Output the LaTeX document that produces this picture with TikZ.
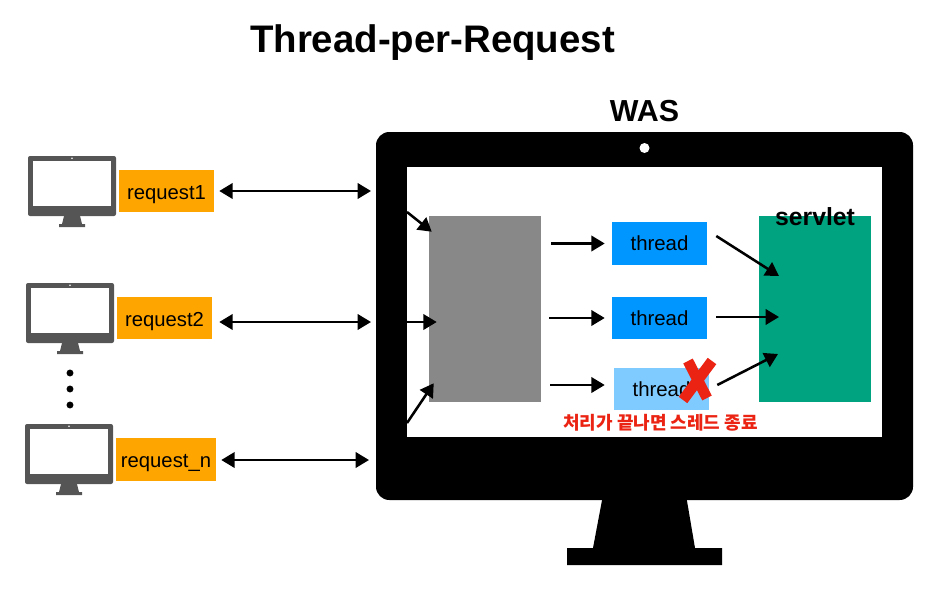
\documentclass[tikz,border=0pt]{standalone}
\usepackage{fontspec}
\setmainfont{Liberation Sans}
\newfontfamily\krfont{Noto Sans CJK KR}
\definecolor{reqorange}{RGB}{255,165,0}
\definecolor{threadblue}{RGB}{0,150,255}
\definecolor{threadlight}{RGB}{127,202,255}
\definecolor{servletgreen}{RGB}{0,163,127}
\definecolor{queuegrey}{RGB}{136,136,136}
\definecolor{clientgrey}{RGB}{85,85,85}
\definecolor{crossred}{RGB}{235,35,18}
\usetikzlibrary{arrows.meta}

\begin{document}
\begin{tikzpicture}[
        x=0.75pt,y=-0.75pt,
        request/.style={fill=reqorange,minimum height=31.5pt,inner sep=0pt,text height=12.4pt,text depth=0pt,font=\fontsize{15.2}{18}\selectfont},
        worker/.style={fill=threadblue,minimum width=71.25pt,minimum height=32pt,inner sep=0pt,text height=11.2pt,text depth=0pt,font=\fontsize{15.3}{18}\selectfont},
        arrow/.style={-{Triangle[length=10pt,width=11.5pt]},line width=1.9pt,color=black},
        both/.style={{Triangle[length=10pt,width=11.5pt]}-{Triangle[length=10pt,width=11.5pt]},line width=1.9pt,color=black},
        dot/.style={circle,fill=black,minimum size=5.2pt,inner sep=0pt},
        client/.pic={
            \fill[clientgrey,rounded corners=1.5pt] (-44,0) rectangle (44,60);
            \fill[white] (-39,5) rectangle (39,50);
            \fill[white] (0,2.2) circle (0.9);
            \fill[clientgrey] (-8,60) -- (8,60) -- (10,68) -- (13,68) -- (13,71) -- (-13,71) -- (-13,68) -- (-10,68) -- cycle;
        }
    ]
        \useasboundingbox (0,0) rectangle (942,592);

        % Titles
        \node[font=\bfseries\fontsize{28.8}{32}\selectfont] (title) at (432.5,42.5) {Thread-per-Request};
        \node[font=\bfseries\fontsize{22.8}{26}\selectfont] (wastitle) at (644.5,111) {WAS};

        % Clients
        \pic at (72,156) {client};
        \pic at (70,283) {client};
        \pic at (69,424) {client};
        \node[dot] (dot1) at (70,373) {};
        \node[dot] (dot2) at (70,389) {};
        \node[dot] (dot3) at (70,405) {};

        \node[request,minimum width=71.25pt] (req1) at (166.5,191) {request1};
        \node[request,minimum width=71.25pt] (req2) at (164.5,318) {request2};
        \node[request,minimum width=75pt,minimum height=32.25pt] (reqn) at (166,459.5) {request\_n};

        % WAS monitor
        \fill[black] (603,495) -- (686,495) -- (695,548) -- (722,548) -- (722,565) -- (567,565) -- (567,548) -- (593,548) -- cycle;
        \node[fill=black,rounded corners=10pt,minimum width=402.75pt,minimum height=276pt,inner sep=0pt] (was) at (644.5,316) {};
        \node[fill=white,minimum width=356.25pt,minimum height=202.5pt,inner sep=0pt] (screen) at (644.5,302) {};
        \node[circle,fill=white,minimum size=7.5pt,inner sep=0pt] (camera) at (644.5,148) {};

        \node[fill=queuegrey,minimum width=84pt,minimum height=139.5pt,inner sep=0pt] (queue) at (485,309) {};
        \node[fill=servletgreen,minimum width=84pt,minimum height=139.5pt,inner sep=0pt] (servlet) at (815,309) {};
        \node[font=\bfseries\fontsize{18.6}{22}\selectfont] (servletname) at (815,217) {servlet};

        \node[worker] (thread1) at (659.5,243.5) {thread};
        \node[worker] (thread2) at (659.5,318) {thread};
        \node[worker,fill=threadlight] (thread3) at (661.5,389) {thread};

        % Free arrow ends
        \coordinate (gate1) at (371,191);
        \coordinate (gate2) at (371,322);
        \coordinate (gaten) at (369,460);
        \coordinate (in1) at (407,212);
        \coordinate (in2) at (407,322);
        \coordinate (in3) at (407,423);
        \coordinate (out1) at (551,243.5);
        \coordinate (out2) at (549,318);
        \coordinate (out3) at (550,385);
        \coordinate (hit1) at (779,276);
        \coordinate (hit2) at (779,317);
        \coordinate (hit3) at (778,354);

        % Arrows
        \draw[both] ([shift={(5,0)}]req1.east) -- (gate1);
        \draw[both] ([shift={(7,4)}]req2.east) -- (gate2);
        \draw[both] ([shift={(5,0.5)}]reqn.east) -- (gaten);
        \draw[arrow] (in1) -- ([shift={(3,16)}]queue.north west);
        \draw[arrow] (in2) -- ([shift={(8,13)}]queue.west);
        \draw[arrow] (in3) -- ([shift={(5,-19)}]queue.south west);
        \draw[arrow] (out1) -- ([shift={(-7,0)}]thread1.west);
        \draw[arrow] (out2) -- ([shift={(-7,0)}]thread2.west);
        \draw[arrow] (out3) -- ([shift={(-9,-4)}]thread3.west);
        \draw[arrow] ([shift={(9,-7.5)}]thread1.east) -- (hit1);
        \draw[arrow] ([shift={(9,-1)}]thread2.east) -- (hit2);
        \draw[arrow] ([shift={(8,-4)}]thread3.east) -- (hit3);

        % Ended thread
        \draw[crossred,line width=8pt] (688,361) -- (707,398);
        \draw[crossred,line width=8pt] (712,361) -- (683,400);
        \node[text=crossred,font=\krfont\bfseries\fontsize{13.5}{16}\selectfont] (endnote) at (660.5,422.5) {처리가 끝나면 스레드 종료};
    \end{tikzpicture}
\end{document}
